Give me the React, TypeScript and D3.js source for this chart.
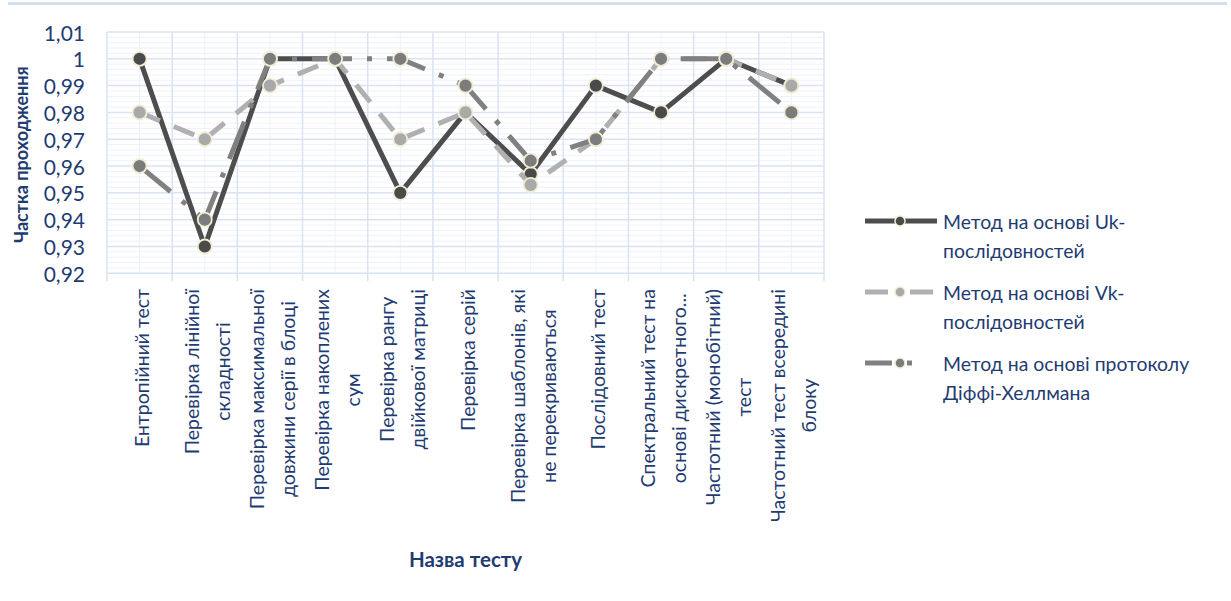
import React, { useEffect, useRef } from "react";
import * as d3 from "d3";

// Test names (line breaks mark how each axis label wraps)
const categories: string[] = [
  "Ентропійний тест",
  "Перевірка лінійної\nскладності",
  "Перевірка максимальної\nдовжини серії в блоці",
  "Перевірка накоплених\nсум",
  "Перевірка рангу\nдвійкової матриці",
  "Перевірка серій",
  "Перевірка шаблонів, які\nне перекриваються",
  "Послідовний тест",
  "Спектральний тест на\nоснові дискретного...",
  "Частотний (монобітний)\nтест",
  "Частотний тест всередині\nблоку",
];

// Pass rates per method
const ukValues: number[] = [1, 0.93, 1, 1, 0.95, 0.98, 0.957, 0.99, 0.98, 1, 0.99];
const vkValues: number[] = [0.98, 0.97, 0.99, 1, 0.97, 0.98, 0.953, 0.97, 1, 1, 0.99];
const dhValues: number[] = [0.96, 0.94, 1, 1, 1, 0.99, 0.962, 0.97, 1, 1, 0.98];

const seriesNames: string[][] = [
  ["Метод на основі Uk-", "послідовностей"],
  ["Метод на основі Vk-", "послідовностей"],
  ["Метод на основі протоколу", "Діффі-Хеллмана"],
];

const yTicks: number[] = [0.92, 0.93, 0.94, 0.95, 0.96, 0.97, 0.98, 0.99, 1, 1.01];

const yTitle = "Частка проходження";
const xTitle = "Назва тесту";

const W = 1231;
const H = 601;
const FONT = "Lato, 'Open Sans', sans-serif";
const TEXT = "#1f3c72";

export default function App() {
  const ref = useRef<SVGSVGElement | null>(null);

  useEffect(() => {
    document.body.style.margin = "0";
    const svg = d3.select(ref.current);
    svg.selectAll("*").remove();

    const left = 107, right = 824, top = 32, bottom = 273.3;
    const x = d3.scaleBand<number>().domain(d3.range(categories.length)).range([left, right]);
    const cx = (i: number) => (x(i) as number) + x.bandwidth() / 2;
    const y = d3.scaleLinear().domain([0.92, 1.01]).range([bottom, top]);

    // frame line along the top of the chart area
    svg.append("rect").attr("x", 8).attr("y", 2).attr("width", 1219).attr("height", 3).attr("fill", "#d3def1");

    const grid = svg.append("g");
    // minor horizontal grid every 0.002
    const minor = d3.range(0, 46).map((k) => 0.92 + k * 0.002).filter((v, k) => k % 5 !== 0);
    grid.selectAll("line.hmin").data(minor).join("line")
      .attr("x1", left).attr("x2", right)
      .attr("y1", (d) => y(d)).attr("y2", (d) => y(d))
      .attr("stroke", "#edf2fa").attr("stroke-width", 1);
    // minor vertical grid at category centres
    grid.selectAll("line.vmin").data(d3.range(categories.length)).join("line")
      .attr("x1", (d) => cx(d)).attr("x2", (d) => cx(d))
      .attr("y1", top).attr("y2", bottom)
      .attr("stroke", "#edf2fa").attr("stroke-width", 1);
    // major horizontal grid
    grid.selectAll("line.hmaj").data(yTicks).join("line")
      .attr("x1", left).attr("x2", right)
      .attr("y1", (d) => y(d)).attr("y2", (d) => y(d))
      .attr("stroke", "#d9e3f3").attr("stroke-width", 1.5);
    // major vertical grid at category boundaries, with ticks below the axis
    grid.selectAll("line.vmaj").data(d3.range(categories.length + 1)).join("line")
      .attr("x1", (d) => left + d * x.bandwidth()).attr("x2", (d) => left + d * x.bandwidth())
      .attr("y1", top).attr("y2", bottom + 8)
      .attr("stroke", "#d9e3f3").attr("stroke-width", 1.5);

    // y tick labels
    svg.append("g").selectAll("text").data(yTicks).join("text")
      .attr("x", 85).attr("y", (d) => y(d))
      .attr("text-anchor", "end").attr("dominant-baseline", "central")
      .attr("font-family", FONT).attr("font-size", 21).attr("fill", TEXT)
      .text((d) => d3.format("~g")(+d.toFixed(2)).replace(".", ","));

    // y axis title
    svg.append("text")
      .attr("transform", `translate(21,${(top + bottom) / 2 + 2}) rotate(-90)`)
      .attr("text-anchor", "middle").attr("dominant-baseline", "central")
      .attr("font-family", FONT).attr("font-size", 18).attr("font-weight", 700).attr("fill", TEXT)
      .text(yTitle);

    // category labels, rotated, wrapped lines centred within each block
    const labelTop = 289;
    const lineGap = 31;
    categories.forEach((c, i) => {
      const lines = c.split("\n");
      const g = svg.append("g");
      const texts = lines.map((ln) =>
        g.append("text")
          .attr("text-anchor", "middle").attr("dominant-baseline", "central")
          .attr("font-family", FONT).attr("font-size", 19.5).attr("fill", TEXT)
          .text(ln)
      );
      const maxLen = d3.max(texts, (t) => (t.node() as SVGTextElement).getComputedTextLength()) || 0;
      texts.forEach((t, j) => {
        const lx = cx(i) + 2 + (j - (lines.length - 1) / 2) * lineGap;
        t.attr("transform", `translate(${lx},${labelTop + maxLen / 2}) rotate(-90)`);
      });
    });

    // x axis title
    svg.append("text")
      .attr("x", (left + right) / 2).attr("y", 567)
      .attr("text-anchor", "middle")
      .attr("font-family", FONT).attr("font-size", 20.5).attr("font-weight", 700).attr("fill", TEXT)
      .text(xTitle);

    const series = [
      { values: ukValues, color: "#4d4d4d", marker: "#4a4a4a", dash: null as string | null, legendDash: null as string | null },
      { values: vkValues, color: "#b0b0b0", marker: "#a9a9a9", dash: "22 15", legendDash: "23 22" },
      { values: dhValues, color: "#808080", marker: "#7c7c7c", dash: "40 15 5 15", legendDash: "27 15 5 60" },
    ];

    const line = d3.line<number>().x((_, i) => cx(i)).y((d) => y(d));
    const plot = svg.append("g");
    series.forEach((s) => {
      plot.append("path")
        .attr("d", line(s.values))
        .attr("fill", "none").attr("stroke", s.color).attr("stroke-width", 5)
        .attr("stroke-linejoin", "round")
        .attr("stroke-dasharray", s.dash);
      plot.append("g").selectAll("circle").data(s.values).join("circle")
        .attr("cx", (_, i) => cx(i)).attr("cy", (d) => y(d)).attr("r", 7)
        .attr("fill", s.marker).attr("stroke", "#f1ecd4").attr("stroke-width", 1.8);
    });

    // legend
    const lg = svg.append("g");
    const rowsY = [221, 292, 363];
    series.forEach((s, k) => {
      const ly = rowsY[k];
      lg.append("line")
        .attr("x1", 865).attr("x2", 937).attr("y1", ly).attr("y2", ly)
        .attr("stroke", s.color).attr("stroke-width", 5)
        .attr("stroke-dasharray", s.legendDash);
      lg.append("circle").attr("cx", 900).attr("cy", ly).attr("r", 5)
        .attr("fill", s.marker).attr("stroke", "#f1ecd4").attr("stroke-width", 1.5);
      seriesNames[k].forEach((t, j) => {
        lg.append("text")
          .attr("x", 943).attr("y", ly + j * 29.5)
          .attr("dominant-baseline", "central")
          .attr("font-family", FONT).attr("font-size", 19.4).attr("fill", TEXT)
          .text(t);
      });
    });
  }, []);

  return <svg ref={ref} width={W} height={H} style={{ display: "block", background: "#fff" }} />;
}
